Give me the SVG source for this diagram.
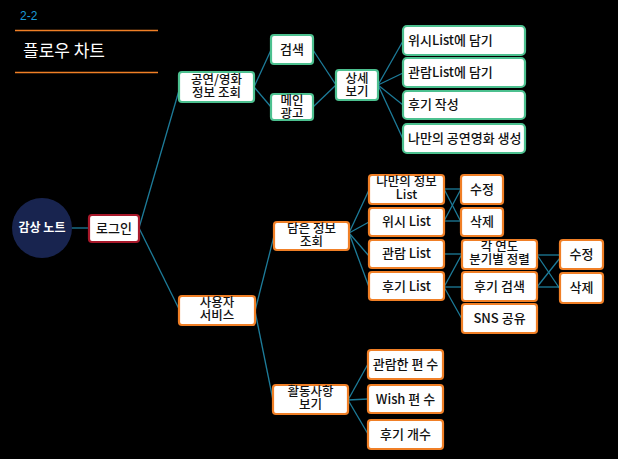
<svg xmlns="http://www.w3.org/2000/svg" width="618" height="459" viewBox="0 0 618 459">
<style>
.bg{fill:#000}
.g rect{fill:#fff;stroke:#4cc08f;stroke-width:2.2}
.o rect{fill:#fff;stroke:#f07f26;stroke-width:2.2}
.r rect{fill:#fff;stroke:#a8182a;stroke-width:2.2}
text{font-family:"Noto Sans CJK KR","Noto Sans",sans-serif;font-size:13px;fill:#111;text-anchor:middle;font-weight:500}
.two{font-size:12.5px}
.l{text-anchor:start}
#conn line{stroke:#1d7c9a;stroke-width:1.3}
</style>
<rect class="bg" x="0" y="0" width="618" height="459"/>
<g id="header">
<text x="20" y="20" style="fill:#1a9ad6;font-size:12px;text-anchor:start;font-family:'Liberation Sans',sans-serif">2-2</text>
<line x1="15" y1="30.5" x2="158" y2="30.5" stroke="#f07f26" stroke-width="1.3"/>
<text x="23" y="57" style="fill:#fff;font-size:17px;text-anchor:start;font-weight:400">플로우 차트</text>
<line x1="15" y1="72.5" x2="158" y2="72.5" stroke="#f07f26" stroke-width="1.3"/>
</g>
<g id="conn">
<line x1="70" y1="228" x2="89" y2="228"/>
<line x1="139" y1="228" x2="180" y2="87"/>
<line x1="139" y1="228" x2="180" y2="311"/>
<line x1="254" y1="87" x2="271" y2="50"/>
<line x1="254" y1="87" x2="271" y2="107"/>
<line x1="313" y1="50" x2="336" y2="85"/>
<line x1="313" y1="107" x2="336" y2="85"/>
<line x1="378" y1="85" x2="403" y2="41"/>
<line x1="378" y1="85" x2="403" y2="73"/>
<line x1="378" y1="85" x2="403" y2="105"/>
<line x1="378" y1="85" x2="403" y2="139"/>
<line x1="255" y1="311" x2="274" y2="236"/>
<line x1="255" y1="311" x2="273" y2="400"/>
<line x1="349" y1="233" x2="369" y2="190"/>
<line x1="349" y1="233" x2="369" y2="222"/>
<line x1="349" y1="233" x2="369" y2="256"/>
<line x1="349" y1="233" x2="369" y2="287"/>
<line x1="444" y1="189" x2="461" y2="189"/>
<line x1="444" y1="189" x2="461" y2="222"/>
<line x1="444" y1="221" x2="461" y2="189"/>
<line x1="444" y1="221" x2="461" y2="221"/>
<line x1="444" y1="254" x2="462" y2="254"/>
<line x1="444" y1="287" x2="462" y2="254"/>
<line x1="444" y1="287" x2="462" y2="287"/>
<line x1="444" y1="287" x2="462" y2="319"/>
<line x1="537" y1="255" x2="560" y2="255"/>
<line x1="537" y1="255" x2="560" y2="289"/>
<line x1="537" y1="287" x2="560" y2="258"/>
<line x1="537" y1="287" x2="560" y2="287"/>
<line x1="348" y1="400" x2="368" y2="364"/>
<line x1="348" y1="400" x2="368" y2="399"/>
<line x1="348" y1="400" x2="368" y2="434"/>
</g>
<g id="n-root"><circle cx="42" cy="228" r="30" fill="#18244f"/><text x="42" y="232" style="fill:#fff;font-weight:700;font-size:12px">감상 노트</text></g>
<g id="n-login" class="r"><rect x="89" y="215" width="50" height="27" rx="3"/><text x="114" y="233">로그인</text></g>
<g id="n-view" class="g"><rect x="179" y="72" width="75" height="30" rx="3"/><text class="two" x="216.5" y="84">공연/영화<tspan x="216.5" dy="13">정보 조회</tspan></text></g>
<g id="n-search" class="g"><rect x="271" y="35" width="42" height="29" rx="3"/><text x="292" y="54">검색</text></g>
<g id="n-ad" class="g"><rect x="271" y="94" width="42" height="26" rx="3"/><text class="two" x="292" y="105">메인<tspan x="292" dy="13">광고</tspan></text></g>
<g id="n-detail" class="g"><rect x="336" y="70" width="42" height="30" rx="3"/><text class="two" x="357" y="83">상세<tspan x="357" dy="13">보기</tspan></text></g>
<g id="n-wish" class="g"><rect x="403" y="26" width="122" height="29" rx="4"/><text class="l" x="408" y="45">위시List에 담기</text></g>
<g id="n-watch" class="g"><rect x="403" y="58" width="122" height="29" rx="4"/><text class="l" x="408" y="77">관람List에 담기</text></g>
<g id="n-review" class="g"><rect x="403" y="91" width="122" height="28" rx="4"/><text class="l" x="408" y="109">후기 작성</text></g>
<g id="n-mine" class="g"><rect x="403" y="124" width="122" height="29" rx="4"/><text class="l" x="408" y="143">나만의 공연영화 생성</text></g>
<g id="n-user" class="o"><rect x="179" y="296" width="76" height="29" rx="3"/><text class="two" x="217" y="307">사용자<tspan x="217" dy="13">서비스</tspan></text></g>
<g id="n-saved" class="o"><rect x="274" y="222" width="75" height="28" rx="3"/><text class="two" x="311.5" y="233">담은 정보<tspan x="311.5" dy="13">조회</tspan></text></g>
<g id="n-myinfo" class="o"><rect x="369" y="175" width="75" height="29" rx="3"/><text class="two" x="406.5" y="186">나만의 정보<tspan x="406.5" dy="13">List</tspan></text></g>
<g id="n-wishlist" class="o"><rect x="369" y="208" width="75" height="28" rx="3"/><text x="406.5" y="226">위시 List</text></g>
<g id="n-watchlist" class="o"><rect x="369" y="240" width="75" height="28" rx="3"/><text x="406.5" y="258">관람 List</text></g>
<g id="n-reviewlist" class="o"><rect x="369" y="272" width="75" height="28" rx="3"/><text x="406.5" y="291">후기 List</text></g>
<g id="n-edit1" class="o"><rect x="461" y="175" width="42" height="29" rx="3"/><text x="482" y="194">수정</text></g>
<g id="n-del1" class="o"><rect x="461" y="208" width="42" height="28" rx="3"/><text x="482" y="226">삭제</text></g>
<g id="n-sort" class="o"><rect x="462" y="240" width="75" height="29" rx="3"/><text class="two" x="499.5" y="251">각 연도<tspan x="499.5" dy="13">분기별 정렬</tspan></text></g>
<g id="n-rsearch" class="o"><rect x="462" y="272" width="75" height="29" rx="3"/><text x="499.5" y="291">후기 검색</text></g>
<g id="n-sns" class="o"><rect x="462" y="304" width="75" height="29" rx="3"/><text x="499.5" y="323">SNS 공유</text></g>
<g id="n-edit2" class="o"><rect x="560" y="240" width="43" height="29" rx="3"/><text x="581.5" y="259">수정</text></g>
<g id="n-del2" class="o"><rect x="560" y="273" width="43" height="30" rx="3"/><text x="581.5" y="292">삭제</text></g>
<g id="n-activity" class="o"><rect x="273" y="385" width="75" height="29" rx="3"/><text class="two" x="310.5" y="396">활동사항<tspan x="310.5" dy="13">보기</tspan></text></g>
<g id="n-cnt-watch" class="o"><rect x="368" y="350" width="75" height="29" rx="3"/><text x="405.5" y="369">관람한 편 수</text></g>
<g id="n-cnt-wish" class="o"><rect x="368" y="385" width="75" height="28" rx="3"/><text x="405.5" y="404">Wish 편 수</text></g>
<g id="n-cnt-review" class="o"><rect x="368" y="420" width="75" height="29" rx="3"/><text x="405.5" y="439">후기 개수</text></g>
</svg>
